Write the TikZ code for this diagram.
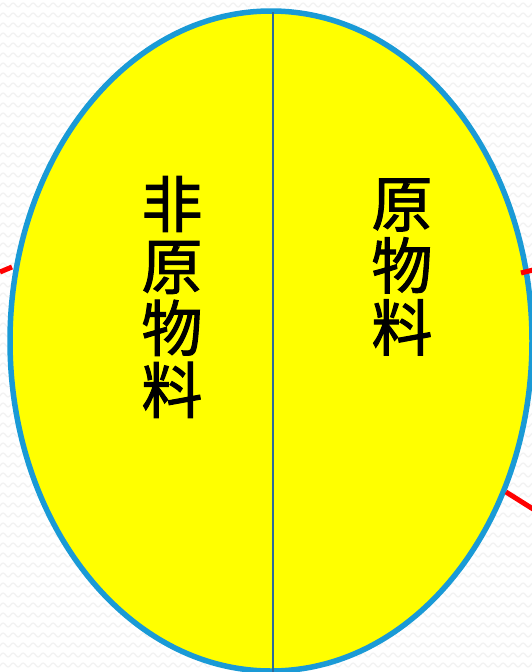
\documentclass[tikz,border=0pt]{standalone}
\usepackage{fontspec}
\newfontfamily\cjk[FakeBold=1.6]{Noto Sans CJK SC}
\usetikzlibrary{decorations.pathmorphing,shapes.geometric}
\definecolor{eggblue}{HTML}{1A9AD6}
\definecolor{eggyellow}{HTML}{FFFF00}
\definecolor{midline}{HTML}{2E6A9A}
\definecolor{wavegray}{HTML}{F2F2F2}
\tikzset{
  bgwave/.style={wavegray, line width=1.2pt, decorate, decoration={snake, segment length=10pt, amplitude=2pt}},
  egg/.style={draw=eggblue, line width=5.5pt, fill=eggyellow, inner sep=0pt, outer sep=0pt},
  divider/.style={draw=midline, line width=1.4pt},
  redmark/.style={draw=red, line width=5pt},
  label/.style={font=\cjk\fontsize{61}{62}\selectfont, align=center, text=black, inner sep=0pt}
}
\begin{document}
\begin{tikzpicture}[x=1pt, y=-1pt]
  \useasboundingbox (0,0) rectangle (532,672);
  \fill[white] (0,0) rectangle (532,672);
  \foreach \r in {0,10,...,670} {
    \draw[bgwave] (-10,\r+5) -- (545,\r+5);
  }
  \node[ellipse, minimum width=522pt, minimum height=660pt, egg] (oval) at (271,341) {};
  \coordinate (topmid) at (273,12);
  \coordinate (botmid) at (273,672);
  \draw[divider] (topmid) -- (botmid);
  \coordinate (l1) at (0,272);
  \coordinate (l2) at (12,267);
  \coordinate (r1) at (521,273);
  \coordinate (r2) at (533,270);
  \coordinate (r3) at (506,492);
  \coordinate (r4) at (533,509);
  \draw[redmark] (l1) -- (l2);
  \draw[redmark] (r1) -- (r2);
  \draw[redmark] (r3) -- (r4);
  \node[label] (left) at (172,297) {非\\原\\物\\料};
  \node[label] (right) at (402,267) {原\\物\\料};
\end{tikzpicture}
\end{document}
